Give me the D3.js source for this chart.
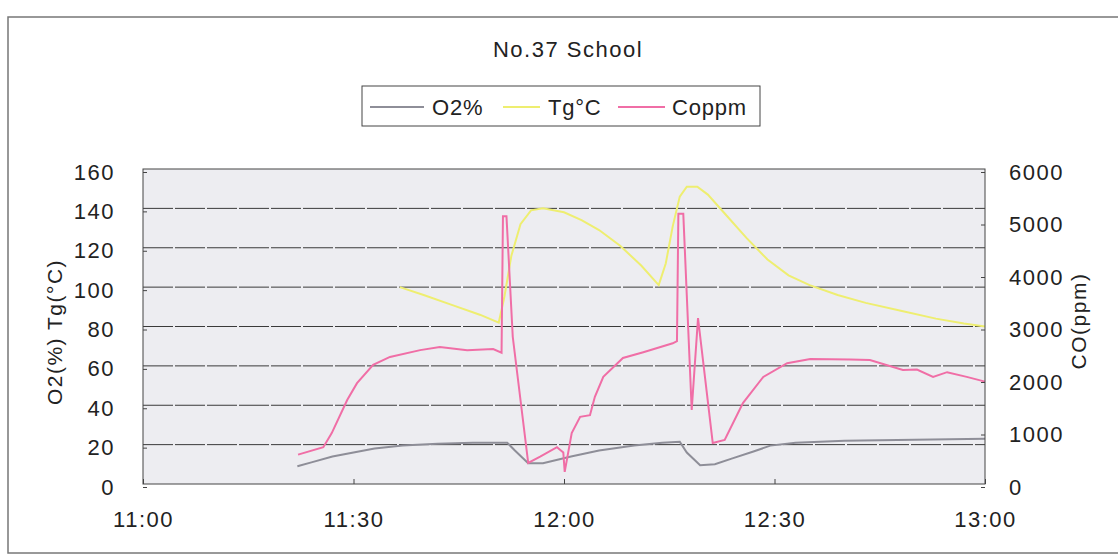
<!DOCTYPE html>
<html>
<head>
<meta charset="utf-8">
<script src="https://cdn.jsdelivr.net/npm/d3@7"></script>
<style>
  body { margin: 0; background: #fff; }
  svg text { font-family: "Liberation Sans", Arial, sans-serif; fill: #222; }
</style>
</head>
<body>
<svg id="chart" width="1118" height="556"></svg>
<script>
// minutes after 11:00
var xTicks = [0, 30, 60, 90, 120];
var xLabels = ['11:00', '11:30', '12:00', '12:30', '13:00'];
var leftTicks = [0, 20, 40, 60, 80, 100, 120, 140, 160];
var rightTicks = [0, 1000, 2000, 3000, 4000, 5000, 6000];

var o2Time = [22, 24, 27, 30, 33, 37, 42, 47, 51.9, 53, 54.9, 57, 61, 65, 70, 74, 76.5, 77.5, 79.4, 81.5, 84, 87, 89.4, 93, 100, 110, 120];
var o2Vals = [9, 11, 14, 16, 18, 19.5, 20.5, 21, 21, 17, 10.5, 10.5, 14, 17, 19.5, 21, 21.5, 16, 9.5, 10, 13, 16.5, 19.5, 21, 22, 22.5, 23];

var tgTime = [36.6, 40, 44, 48, 50.7, 51.5, 52.5, 53.8, 55.3, 57, 60, 62.5, 65, 68, 71, 73.5, 74.5, 75.5, 76.5, 77.5, 79, 80.5, 83, 86, 89, 92, 95, 99, 103, 108, 113, 117, 120];
var tgVals = [100, 96, 91, 86, 82, 95, 116, 132, 139, 140, 138, 134, 129, 121, 111, 101, 112, 131, 146, 151, 151, 147, 137, 125, 114, 106, 101, 96, 92, 88, 84, 81.5, 80];

var coTime = [22.1, 25.7, 26.9, 29.1, 30.5, 32.8, 35.2, 39.5, 42.3, 46.2, 49.9, 51.1, 51.3, 51.8, 52.7, 54.9, 56.6, 59, 59.9, 60.1, 61.1, 62.3, 63.7, 64.4, 65.6, 68.4, 71.3, 75.5, 76.1, 76.3, 77, 78.2, 79.1, 81.2, 82.9, 85.5, 88.4, 91.8, 95.1, 100.8, 103.6, 108.3, 110.3, 112.6, 114.6, 117.4, 120];
var coVals = [560, 700, 970, 1600, 1920, 2270, 2420, 2550, 2610, 2550, 2570, 2500, 5100, 5100, 2800, 400, 520, 700, 600, 230, 970, 1280, 1310, 1660, 2040, 2400, 2510, 2680, 2720, 5150, 5150, 1410, 3160, 780, 840, 1540, 2040, 2300, 2380, 2370, 2360, 2170, 2180, 2040, 2130, 2040, 1950];

function drawChart() {
    var svg = d3.select('#chart');
    var pLeft = 143, pRight = 985, pTop = 169, pBottom = 484;

    // outer frame
    svg.append('rect').attr('x', 8).attr('y', 17).attr('width', 1130).attr('height', 536)
        .attr('fill', 'none').attr('stroke', '#777').attr('stroke-width', 1.5);

    var x = d3.scaleLinear().domain([0, 120]).range([pLeft, pRight]);
    var yL = d3.scaleLinear().domain([0, 160]).range([pBottom, pTop]);
    var yR = d3.scaleLinear().domain([0, 6000]).range([pBottom, pTop]);

    svg.append('rect').attr('x', pLeft).attr('y', pTop).attr('width', pRight - pLeft).attr('height', pBottom - pTop)
        .attr('fill', '#ededf1');

    // gridlines
    svg.append('g').selectAll('line').data(leftTicks.slice(1, -1)).join('line')
        .attr('x1', pLeft).attr('x2', pRight)
        .attr('y1', function (d) { return yL(d); }).attr('y2', function (d) { return yL(d); })
        .attr('stroke', '#3a3a3a').attr('stroke-width', 1).attr('stroke-dasharray', '30,2');

    var line = d3.line().x(function (d) { return x(d[0]); }).y(function (d) { return d[1]; });

    function pts(t, v, sc) {
        return t.map(function (m, i) { return [m, sc(v[i])]; });
    }

    svg.append('path').attr('d', line(pts(o2Time, o2Vals, yL)))
        .attr('fill', 'none').attr('stroke', '#8e8e98').attr('stroke-width', 2);
    svg.append('path').attr('d', line(pts(tgTime, tgVals, yL)))
        .attr('fill', 'none').attr('stroke', '#eeee70').attr('stroke-width', 2);
    svg.append('path').attr('d', line(pts(coTime, coVals, yR)))
        .attr('fill', 'none').attr('stroke', '#f06ea6').attr('stroke-width', 2);

    // plot border
    svg.append('rect').attr('x', pLeft).attr('y', pTop).attr('width', pRight - pLeft).attr('height', pBottom - pTop)
        .attr('fill', 'none').attr('stroke', '#444').attr('stroke-width', 1);

    // axes
    var axL = d3.axisLeft(yL).tickValues(leftTicks).tickSize(-4).tickPadding(28);
    var axR = d3.axisRight(yR).tickValues(rightTicks).tickSize(-4).tickPadding(24).tickFormat(d3.format('d'));
    var axB = d3.axisBottom(x).tickValues(xTicks).tickSize(-5).tickPadding(27)
        .tickFormat(function (d, i) { return xLabels[i]; });

    [[axL, 'translate(' + pLeft + ',3)'], [axR, 'translate(' + pRight + ',3)'], [axB, 'translate(0,' + pBottom + ')']]
        .forEach(function (a) {
            var g = svg.append('g').attr('transform', a[1]).call(a[0]);
            g.select('.domain').remove();
            g.selectAll('line').attr('stroke', '#444');
            g.selectAll('text').attr('font-size', 22).attr('fill', '#222').style('letter-spacing', '1.5px');
        });

    // title
    svg.append('text').attr('x', 568).attr('y', 57).attr('text-anchor', 'middle')
        .attr('font-size', 22).style('letter-spacing', '1.5px').text('No.37 School');

    // legend
    var leg = svg.append('g');
    leg.append('rect').attr('x', 362).attr('y', 86).attr('width', 398).attr('height', 40)
        .attr('fill', '#fff').attr('stroke', '#444').attr('stroke-width', 1);
    var legItems = [['O2%', '#8e8e98', 370, 424, 432], ['Tg\u00b0C', '#eeee70', 503, 540, 548], ['Coppm', '#f06ea6', 618, 665, 672]];
    legItems.forEach(function (it) {
        leg.append('line').attr('x1', it[2]).attr('x2', it[3]).attr('y1', 107).attr('y2', 107)
            .attr('stroke', it[1]).attr('stroke-width', 2);
        leg.append('text').attr('x', it[4]).attr('y', 115).attr('font-size', 22)
            .style('letter-spacing', '0.8px').text(it[0]);
    });

    // axis titles
    svg.append('text').attr('transform', 'translate(62,332) rotate(-90)').attr('text-anchor', 'middle')
        .attr('font-size', 21).style('letter-spacing', '1.5px').text('O2(%) Tg(\u00b0C)');
    svg.append('text').attr('transform', 'translate(1086,321) rotate(-90)').attr('text-anchor', 'middle')
        .attr('font-size', 21).style('letter-spacing', '1.5px').text('CO(ppm)');
}

drawChart();
</script>
</body>
</html>
